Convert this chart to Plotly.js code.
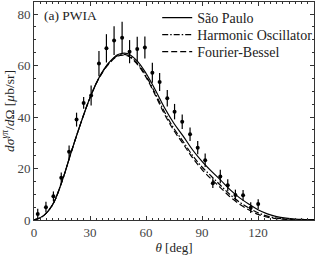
<!DOCTYPE html>
<html>
<head>
<meta charset="utf-8">
<script src="https://cdn.plot.ly/plotly-3.0.1.min.js"></script>
<style>html,body{margin:0;padding:0;background:#fff;}#chart{width:319px;height:255px;}</style>
</head>
<body>
<div id="chart"></div>
<script>
// Experimental data: angle (deg), cross section, error
var dataTheta = [2.0, 6.4, 10.4, 14.6, 18.8, 22.8, 26.6, 30.6, 34.8, 38.8, 42.9, 47.2, 51.2, 55.3, 59.4, 63.4, 67.3, 71.4, 75.3, 79.4, 83.6, 87.7, 91.7, 95.8, 99.8, 103.8, 107.9, 112.0, 116.1, 120.1];
var dataValue = [2.3, 5.0, 9.2, 16.4, 26.5, 39.0, 45.5, 48.4, 60.8, 66.7, 69.7, 70.8, 65.4, 66.4, 67.0, 57.2, 53.6, 47.3, 42.1, 38.2, 33.3, 28.1, 23.2, 14.3, 16.9, 13.5, 9.7, 9.6, 4.8, 6.2];
var dataError = [2.1, 2.1, 1.9, 2.1, 2.4, 2.7, 2.3, 3.9, 4.9, 5.5, 5.6, 6.2, 4.5, 4.8, 4.3, 3.9, 3.5, 3.2, 3.0, 2.8, 2.6, 2.6, 2.6, 1.9, 2.6, 2.3, 2.1, 2.1, 2.1, 1.9];

// Theory curves
var curveTheta = [0, 5, 10, 15, 20, 25, 30, 35, 40, 45, 50, 55, 60, 65, 70, 75, 80, 85, 90, 95, 100, 105, 110, 115, 120, 125, 130, 135, 140, 145, 150];
var saoPaulo = [0, 1.6, 6.0, 15.0, 26.5, 37.5, 47.5, 55.5, 61.0, 64.3, 64.7, 62.0, 57.0, 50.5, 43.5, 37.5, 32.5, 27.2, 22.8, 19.0, 15.5, 11.8, 8.7, 6.2, 4.0, 2.4, 1.3, 0.7, 0.35, 0.2, 0.1];
var harmonicOsc = [0, 1.6, 6.0, 15.0, 26.5, 37.5, 47.5, 55.4, 60.8, 63.9, 64.1, 61.2, 56.0, 49.1, 41.9, 35.5, 30.4, 25.0, 20.6, 17.0, 13.4, 9.9, 7.0, 4.7, 2.8, 1.5, 0.75, 0.4, 0.18, 0.1, 0.04];
var fourierBessel = [0, 1.6, 6.0, 15.0, 26.5, 37.5, 47.5, 55.3, 60.6, 63.7, 63.8, 60.8, 55.5, 48.5, 41.0, 34.7, 29.5, 24.1, 19.6, 15.9, 12.5, 9.0, 6.2, 4.0, 2.2, 1.1, 0.5, 0.25, 0.1, 0.05, 0.02];

var serif = "Liberation Serif, DejaVu Serif, serif";

var traces = [
  {x: curveTheta, y: saoPaulo, type: 'scatter', mode: 'lines', name: 'São Paulo',
   line: {color: '#000', width: 1.2, dash: 'solid', shape: 'spline'}},
  {x: curveTheta, y: harmonicOsc, type: 'scatter', mode: 'lines', name: 'Harmonic Oscillator',
   line: {color: '#000', width: 1.2, dash: '6px,2px,1.5px,2px', shape: 'spline'}},
  {x: curveTheta, y: fourierBessel, type: 'scatter', mode: 'lines', name: 'Fourier-Bessel',
   line: {color: '#000', width: 1.2, dash: '6px,3px', shape: 'spline'}},
  {x: dataTheta, y: dataValue, type: 'scatter', mode: 'markers', showlegend: false,
   marker: {color: '#000', size: 4},
   error_y: {type: 'data', array: dataError, visible: true, color: '#000', thickness: 1.2, width: 0}}
];

var axisCommon = {
  showgrid: false, zeroline: false, showline: true, linecolor: '#333', linewidth: 1,
  mirror: 'allticks', ticks: 'inside', ticklen: 4, tickcolor: '#333', tickwidth: 1,
  tickfont: {family: serif, size: 13, color: '#444'}
};

var layout = {
  width: 319, height: 255,
  margin: {l: 34, r: 1, t: 2, b: 35},
  paper_bgcolor: '#fff', plot_bgcolor: '#fff',
  showlegend: true,
  legend: {x: 0.44, y: 1.0, xanchor: 'left', yanchor: 'top', bgcolor: 'rgba(0,0,0,0)',
           font: {family: serif, size: 14, color: '#222'}, tracegroupgap: 0},
  xaxis: Object.assign({}, axisCommon, {
    range: [0, 150], tickmode: 'array', tickvals: [0, 30, 60, 90, 120], ticktext: ['0', '30', '60', '90', '120'],
    minor: {dtick: 10/3, tick0: 0, ticks: 'inside', ticklen: 2, tickcolor: '#333'},
    title: {text: '<i>θ</i> [deg]', font: {family: serif, size: 13, color: '#222'}, standoff: 5}
  }),
  yaxis: Object.assign({}, axisCommon, {
    range: [0, 84.7], tickmode: 'array', tickvals: [0, 20, 40, 60, 80], ticktext: ['0', '20', '40', '60', '80'],
    minor: {dtick: 5, tick0: 0, ticks: 'inside', ticklen: 2, tickcolor: '#333'},
    title: {text: '<i>dσ</i><sup><i>γπ</i></sup>/<i>d</i>Ω [<i>μ</i>b/sr]', font: {family: serif, size: 13.5, color: '#222'}, standoff: 3}
  }),
  annotations: [{
    xref: 'paper', yref: 'paper', x: 0.03, y: 0.98, xanchor: 'left', yanchor: 'top',
    text: '(a) PWIA', showarrow: false, font: {family: serif, size: 13.5, color: '#222'}
  }]
};

Plotly.newPlot('chart', traces, layout, {displayModeBar: false, staticPlot: true}).then(function (gd) {
  // tighten legend row spacing to match the reference (17 px per row)
  var items = gd.querySelectorAll('.legend .traces');
  var y0 = null;
  items.forEach(function (el, i) {
    var t = el.getAttribute('transform') || '';
    var m = t.match(/translate\(\s*([-\d.eE]+)[ ,]+([-\d.eE]+)\s*\)/);
    if (!m) return;
    var x = parseFloat(m[1]), y = parseFloat(m[2]);
    if (y0 === null) y0 = y;
    el.setAttribute('transform', 'translate(' + x + ',' + (y0 + i * 17) + ')');
  });
});
</script>
</body>
</html>
